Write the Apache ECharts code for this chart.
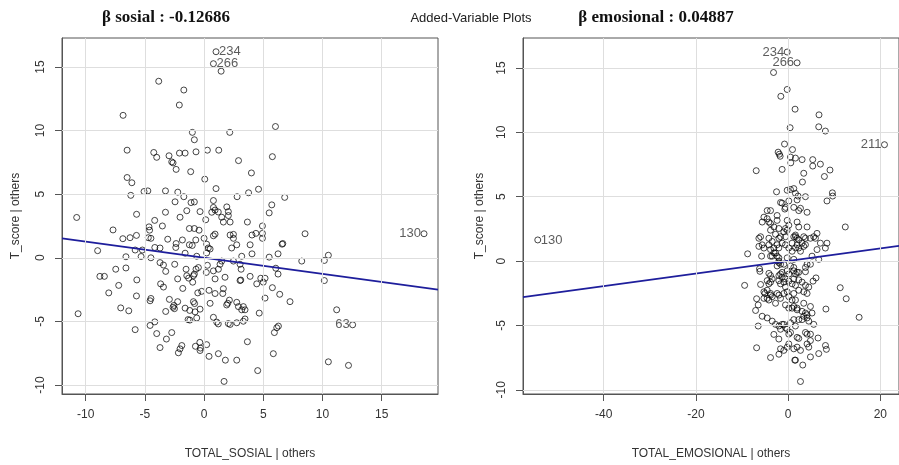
<!DOCTYPE html>
<html>
<head>
<meta charset="utf-8">
<script src="https://cdn.jsdelivr.net/npm/echarts@6/dist/echarts.min.js"></script>
<style>html,body{margin:0;padding:0;background:#fff;}#c{width:899px;height:465px;}</style>
</head>
<body>
<div id="c"></div>
<script>
// ---- data ----
const mainTitle = 'Added-Variable Plots';
const titleSosial = 'β sosial : -0.12686';
const titleEmosional = 'β emosional : 0.04887';
const betaSosial = -0.12686;
const betaEmosional = 0.04887;
const xNameSosial = 'TOTAL_SOSIAL | others';
const xNameEmosional = 'TOTAL_EMOSIONAL | others';
const yName = 'T_score | others';
const xTicksSosial = [-10, -5, 0, 5, 10, 15];
const xTicksEmosional = [-40, -20, 0, 20];
const yTicks = [-10, -5, 0, 5, 10, 15];

const sosialPoints = [
[1.01,16.2],[0.79,15.26],[1.44,14.67],[-3.83,13.88],[-1.71,13.19],[-2.09,12.01],[-6.84,11.2],[-0.99,9.86],[-0.82,9.28],[2.17,9.86],[6.03,10.32],
[-6.5,8.46],[-4.25,8.28],[-4.0,7.9],[-2.96,8.02],[-2.73,7.54],[-2.62,7.46],[-2.08,8.23],[-1.6,8.23],[-0.68,8.33],[0.28,8.46],[1.24,8.46],[2.91,7.64],[5.77,7.95],
[-2.36,6.95],[-1.13,6.77],[4.0,6.67],[-6.5,6.31],[-6.1,5.9],[0.06,6.18],[-6.19,4.91],[-5.07,5.21],[-4.75,5.26],[-3.26,5.26],[-2.22,5.16],[-1.71,4.8],[1.01,5.44],
[2.79,4.8],[4.6,5.39],[3.76,5.11],[6.81,4.75],[-2.45,4.4],[-1.1,4.34],[-0.82,4.39],[0.79,4.5],[0.79,3.96],[5.72,4.16],[-3.26,3.58],[-1.46,3.7],[-0.34,3.63],
[0.65,3.58],[0.93,3.75],[1.2,3.6],[1.92,4.0],[2.05,3.63],[5.5,3.53],[-5.7,3.42],[-10.76,3.17],
[-7.69,2.19],[-6.86,1.5],[-6.25,1.58],[-5.71,1.76],[-5.82,0.61],[-5.32,0.1],[-5.21,0.61],[-8.99,0.56],[-6.6,0.08],[-4.65,2.43],[-4.6,2.17],[-4.71,1.58],[-4.49,1.53],
[-4.49,0.0],[-4.17,2.94],[-3.52,2.5],[-4.16,0.81],[-3.72,0.77],[-3.07,1.46],[-2.39,0.81],[-2.36,1.12],[-2.03,3.19],[-1.83,1.4],[-1.6,0.36],[-1.24,2.3],[-1.24,1.02],
[-1.0,0.97],[-0.82,2.3],[-0.42,2.17],[-0.7,1.4],[-0.62,0.12],[0.14,2.99],[0.0,1.53],[0.22,1.07],[0.36,0.77],[0.22,0.38],[0.51,0.69],[0.79,1.73],[0.93,1.86],
[1.49,3.19],[1.63,2.81],[2.2,1.79],[2.48,1.84],[2.33,0.77],[2.2,2.81],[2.05,3.32],[2.76,1.02],[2.48,1.53],[3.66,2.81],[4.93,2.5],[4.93,1.92],[4.93,1.53],[4.38,1.92],
[4.05,1.79],[3.89,1.02],[4.05,0.31],[3.18,0.12],[5.5,0.05],[6.25,0.31],[6.59,1.07],[6.65,1.12],[8.53,1.89],[10.5,0.2],[18.58,1.89],
[-8.8,-1.46],[-8.42,-1.46],[-8.05,-2.76],[-7.46,-0.9],[-7.21,-2.17],[-6.6,-0.8],[-5.68,-1.74],[-5.71,-3.0],[-3.72,-0.38],[-3.43,-0.57],[-3.24,-1.07],[-3.67,-2.05],
[-3.43,-2.3],[-4.49,-3.2],[-4.56,-3.38],[-2.93,-3.27],[-2.62,-3.89],[-2.55,-3.75],[-2.5,-4.0],[-2.48,-0.51],[-2.23,-1.66],[-2.23,-3.45],[-1.8,-2.41],[-1.52,-0.9],
[-1.46,-1.41],[-1.3,-1.6],[-0.68,-0.9],[-0.48,-0.77],[-0.9,-1.41],[-0.96,-1.92],[-0.82,-1.28],[-0.53,-2.76],[-0.2,-2.64],[-0.9,-3.45],[-0.8,-3.6],[-1.21,-4.14],
[-1.6,-3.96],[-0.34,-4.04],[-0.76,-4.25],[0.28,-0.59],[0.19,-1.15],[0.42,-2.56],[0.51,-3.58],[0.93,-2.81],[0.93,-1.66],[0.79,-1.03],[1.21,-0.9],[1.35,-0.51],
[1.49,-0.26],[1.63,-2.43],[1.58,-2.81],[1.77,-1.53],[2.0,-3.58],[2.14,-3.33],[1.91,-3.71],[2.48,-0.26],[3.04,-1.79],[3.1,-1.75],[3.13,-0.9],[3.04,-0.51],[2.76,-3.5],
[2.9,-3.84],[3.32,-3.84],[3.18,-4.09],[3.46,-4.09],[3.89,-1.46],[4.45,-2.05],[4.79,-1.61],[5.15,-1.61],[5.0,-1.92],[5.15,-3.17],[4.66,-4.35],[5.77,-2.35],[6.25,-1.28],
[6.06,-0.82],[6.39,-2.87],[7.26,-3.45],[8.25,-0.26],[10.16,-0.21],[10.16,-1.79],[11.2,-4.09],[12.55,-5.27],
[-10.64,-4.4],[-7.04,-3.94],[-6.36,-4.17],[-5.82,-5.65],[-4.56,-5.32],[-4.16,-5.04],[-4.0,-5.96],[-3.72,-7.06],[-3.24,-4.22],[-3.18,-6.39],[-2.73,-5.88],[-2.03,-7.16],
[-2.17,-7.47],[-1.88,-6.9],[-1.35,-4.86],[-1.2,-4.9],[-0.62,-4.73],[-0.36,-6.65],[-0.34,-7.29],[-0.3,-7.1],[-0.73,-6.96],[0.22,-6.83],[0.42,-7.75],[0.79,-4.68],
[1.07,-5.06],[1.2,-5.2],[1.21,-7.54],[1.69,-9.72],[2.05,-5.17],[2.76,-8.05],[1.8,-8.05],[2.76,-5.11],[2.2,-5.24],[3.32,-4.99],[3.46,-4.81],[3.66,-6.6],[4.53,-8.87],
[5.94,-5.88],[6.14,-5.5],[6.28,-5.37],[5.85,-7.54],[10.5,-8.18],[12.2,-8.46]
];
const sosialLabelNames = ['234', '266', '130', '63'];
const sosialLabelPoints = [[1.01,16.2],[0.79,15.26],[18.58,1.89],[12.55,-5.27]];

const emosionalPoints = [
[-0.2,16.24],[1.95,15.4],[-3.16,14.65],[-0.2,13.33],[-1.58,12.8],[1.51,11.8],[6.7,11.36],[0.43,10.36],[6.64,10.43],[8.08,10.1],[20.9,9.04],[-0.78,9.09],[0.95,8.66],
[-2.16,8.46],[-1.73,8.14],[-1.9,8.3],[0.51,8.08],[1.59,8.0],[3.03,7.88],[0.58,7.63],[5.34,7.88],[5.34,7.38],[7.0,7.53],[-6.92,7.02],[-1.3,7.12],[3.39,6.82],
[9.08,7.07],[7.87,6.57],[3.11,6.14],[-2.51,5.38],[-0.2,5.5],[0.51,5.56],[1.23,5.63],[1.59,5.26],[2.16,5.05],[3.76,5.0],[9.6,5.3],[9.66,5.05],[8.43,4.67],[-54.3,1.64],
[1.95,4.75],[0.15,4.67],[-1.3,4.5],[-4.54,3.92],[-3.81,3.92],[-0.57,4.17],[1.23,4.17],[2.68,4.1],[4.11,3.79],[-1.64,4.55],[-0.71,4.04],[2.31,3.92],[-2.38,3.54],
[-5.25,3.41],[-5.62,3.03],[-4.17,3.03],[-2.38,3.16],[-0.2,3.16],[0.15,2.78],[-0.57,2.53],[-0.2,2.4],[1.95,3.03],[2.31,2.65],[4.11,2.65],[-3.81,2.4],[-2.73,2.08],
[-2.0,1.77],[-1.64,1.89],[-5.97,1.89],[-6.34,1.77],[1.23,1.89],[1.59,2.02],[1.95,1.77],[3.39,1.89],[3.76,1.77],[4.84,1.77],[5.56,1.89],[6.27,2.15],[12.4,2.65],
[8.43,1.39],[7.0,1.39],[-6.34,1.14],[-5.62,1.26],[-5.25,1.01],[-5.75,0.38],[-8.78,0.56],[-4.17,1.26],[-3.81,0.89],[-3.09,1.01],[-2.73,0.63],[-3.45,0.38],[-2.38,0.38],
[-2.0,0.25],[-1.3,1.39],[-0.57,1.26],[0.15,1.01],[0.87,0.76],[1.95,1.26],[2.31,1.01],[3.39,1.14],[2.68,0.76],[5.92,1.77],[8.08,1.01],[6.27,0.89],[6.64,0.13],[5.19,0.38],
[-0.2,0.25],[1.23,0.13],[-2.0,-0.13],[-1.64,-0.25],[-2.38,-0.38],[-6.12,-0.8],[-6.2,-0.6],[-4.17,-0.96],[-3.81,-1.13],[-3.45,-1.39],[-2.0,-1.13],[-1.64,-1.01],
[-1.3,-1.26],[-0.57,-1.39],[0.15,-1.01],[1.23,-0.76],[1.95,-0.88],[1.23,-1.39],[2.31,-1.46],[3.03,-1.64],[3.76,-0.5],[4.11,-0.25],[4.84,-0.25],[3.76,-0.83],[6.05,-1.31],
[5.41,-1.56],[-5.97,-1.82],[-3.81,-1.64],[-9.43,-1.89],[-5.25,-2.39],[-4.54,-2.27],[-5.04,-2.52],[-3.81,-2.65],[-3.45,-2.77],[-2.0,-2.65],[-2.38,-2.52],[-0.57,-2.02],
[-0.2,-2.39],[0.15,-2.77],[1.23,-2.52],[1.59,-3.03],[2.31,-2.27],[3.39,-2.39],[4.11,-2.52],[4.48,-2.02],[3.76,-1.89],[-6.83,-2.93],[-6.49,-3.41],[-7.05,-3.84],
[11.3,-2.07],[12.6,-2.93],[-4.17,-3.03],[-2.73,-3.28],[-0.57,-3.41],[0.15,-3.66],[1.23,-3.53],[1.95,-3.66],[3.39,-3.28],[4.84,-3.53],[5.19,-4.04],[8.2,-3.73],
[-5.62,-4.29],[-4.54,-4.42],[-3.45,-4.67],[-2.73,-4.92],[-2.0,-5.05],[-0.93,-4.92],[-0.57,-5.17],[0.51,-4.8],[1.59,-5.05],[2.31,-4.55],[3.39,-4.29],[4.11,-4.17],
[3.03,-4.55],[4.48,-4.67],[5.56,-4.92],[-6.49,-5.05],[15.4,-4.37],[0.15,-5.68],[2.31,-6.01],[3.76,-5.55],[4.84,-5.68],[6.49,-5.98],[-3.09,-5.7],[-6.83,-6.74],
[-3.81,-7.5],[-2.0,-7.24],[-1.64,-6.82],[-0.2,-6.69],[0.15,-6.44],[1.95,-6.69],[4.11,-6.44],[4.48,-6.69],[8.1,-6.56],[8.3,-6.86],[6.64,-7.19],[4.84,-7.45],
[1.45,-7.7],[1.59,-7.7],[3.18,-8.08],[2.68,-9.36],
[-4.54,3.29],[-3.81,2.91],[-3.09,2.65],[-2.01,2.53],[-0.93,2.27],[-0.56,1.89],[1.6,1.89],[2.31,1.64],[3.03,1.39],[3.76,1.27],[0.86,1.39],[1.6,1.02],
[-4.17,1.77],[-3.46,1.52],[-2.38,1.27],[-2.01,1.02],[-3.09,0.64],[-3.81,0.38],[-2.01,0.0],[-0.93,-0.25],[0.52,-0.38],[1.23,-0.5],[1.6,-1.01],[2.31,-0.88],
[-0.22,-0.76],[-1.3,-0.88],[-2.01,-1.52],[-1.65,-1.77],[-0.93,-1.64],[0.15,-1.56],[0.86,-1.77],[1.6,-1.89],[-4.17,-1.77],[-4.54,-1.52],[-3.81,-2.52],
[-4.54,-2.9],[-5.25,-2.9],[-1.65,-2.9],[-0.93,-2.52],[0.86,-3.03],[1.95,-3.79],[0.86,-3.66],[3.03,-3.91],[3.76,-4.04],[4.11,-4.42],[1.23,-4.55],
[-1.3,-4.92],[-1.65,-5.3],[-0.22,-5.3],[0.52,-5.55],[1.95,-5.93],[4.11,-5.68],[-2.01,-6.06],[-0.93,-6.94],[1.23,-6.82],[2.68,-6.94],[4.84,-6.18]
];
const emosionalLabelNames = ['234', '266', '211', '130'];
const emosionalLabelPoints = [[-0.2,16.24],[1.95,15.4],[20.9,9.04],[-54.3,1.64]];

// ---- chart ----
const chart = echarts.init(document.getElementById('c'), null, {renderer: 'canvas'});
const sans = 'Liberation Sans, Arial, sans-serif';
const serif = 'Liberation Serif, Times New Roman, serif';
const gridColor = '#dedede';
const boxColor = '#555';

const grids = [
  {left: 62, top: 38, width: 376, height: 365},
  {left: 523, top: 38, width: 378, height: 365}
];
const xRanges = [[-12.0, 19.76], [-57.5, 24.05]];
const yRanges = [[-10.71, 17.28], [-10.33, 17.33]];
const xTicksAll = [xTicksSosial, xTicksEmosional];
const xNames = [xNameSosial, xNameEmosional];

function xAxisFor(i) {
  return {
    gridIndex: i, type: 'value', min: xRanges[i][0], max: xRanges[i][1],
    axisLine: {show: true, onZero: false, lineStyle: {color: boxColor, width: 1}},
    axisTick: {show: true, length: 7, customValues: xTicksAll[i], lineStyle: {color: boxColor}},
    axisLabel: {customValues: xTicksAll[i], margin: 15, fontSize: 12, color: '#333', fontFamily: sans},
    splitLine: {show: false},
    name: xNames[i], nameLocation: 'middle', nameGap: 54,
    nameTextStyle: {fontSize: 12, color: '#333', fontFamily: sans}
  };
}
function yAxisFor(i) {
  return {
    gridIndex: i, type: 'value', min: yRanges[i][0], max: yRanges[i][1],
    axisLine: {show: true, onZero: false, lineStyle: {color: boxColor, width: 1}},
    axisTick: {show: true, length: 7, customValues: yTicks, lineStyle: {color: boxColor}},
    axisLabel: {customValues: yTicks, rotate: 90, margin: 15, fontSize: 12, color: '#333', fontFamily: sans},
    splitLine: {show: false},
    name: yName, nameLocation: 'middle', nameGap: i === 0 ? 40 : 37, nameRotate: 90,
    nameTextStyle: {fontSize: 12, color: '#333', fontFamily: sans}
  };
}
function gridLines(i) {
  const d = [];
  xTicksAll[i].forEach(v => d.push({xAxis: v}));
  yTicks.forEach(v => d.push({yAxis: v}));
  return {
    type: 'scatter', xAxisIndex: i, yAxisIndex: i, data: [], z: 1, silent: true,
    markLine: {silent: true, symbol: 'none', label: {show: false}, animation: false,
      lineStyle: {color: gridColor, width: 1, type: 'solid'}, data: d}
  };
}
function points(i, pts) {
  return {
    type: 'scatter', xAxisIndex: i, yAxisIndex: i, data: pts, z: 3,
    symbol: 'circle', symbolSize: 6, animation: false, silent: true,
    itemStyle: {color: 'rgba(0,0,0,0)', borderColor: '#000', borderWidth: 0.9}
  };
}
function fitLine(i, beta) {
  const xs = xRanges[i];
  return {
    type: 'line', xAxisIndex: i, yAxisIndex: i, z: 4, symbol: 'none', animation: false, silent: true,
    data: [[xs[0], beta * xs[0]], [xs[1], beta * xs[1]]],
    lineStyle: {color: '#1e1e9c', width: 1.8}
  };
}
function labels(i, names, pts, sides) {
  return {
    type: 'scatter', xAxisIndex: i, yAxisIndex: i, z: 5, symbolSize: 0, animation: false, silent: true,
    data: pts.map((p, k) => ({value: p, name: names[k],
      label: {show: true, formatter: names[k], position: sides[k], distance: 3,
        fontSize: 13, color: '#333', fontFamily: sans}}))
  };
}

const option = {
  backgroundColor: '#fff',
  animation: false,
  title: [
    {text: titleSosial, left: 161, top: 4, textAlign: 'center',
     textStyle: {fontFamily: serif, fontWeight: 'bold', fontSize: 17, color: '#111'}},
    {text: mainTitle, left: 466, top: 7, textAlign: 'center',
     textStyle: {fontFamily: sans, fontWeight: 'normal', fontSize: 13, color: '#222'}},
    {text: titleEmosional, left: 651, top: 4, textAlign: 'center',
     textStyle: {fontFamily: serif, fontWeight: 'bold', fontSize: 17, color: '#111'}}
  ],
  grid: grids.map(g => Object.assign({show: true, borderColor: boxColor, borderWidth: 1, backgroundColor: 'rgba(0,0,0,0)', containLabel: false}, g)),
  xAxis: [xAxisFor(0), xAxisFor(1)],
  yAxis: [yAxisFor(0), yAxisFor(1)],
  series: [
    gridLines(0), gridLines(1),
    points(0, sosialPoints), points(1, emosionalPoints),
    fitLine(0, betaSosial), fitLine(1, betaEmosional),
    labels(0, sosialLabelNames, sosialLabelPoints, ['right', 'right', 'left', 'left']),
    labels(1, emosionalLabelNames, emosionalLabelPoints, ['left', 'left', 'left', 'right'])
  ]
};
chart.setOption(option);
</script>
</body>
</html>
